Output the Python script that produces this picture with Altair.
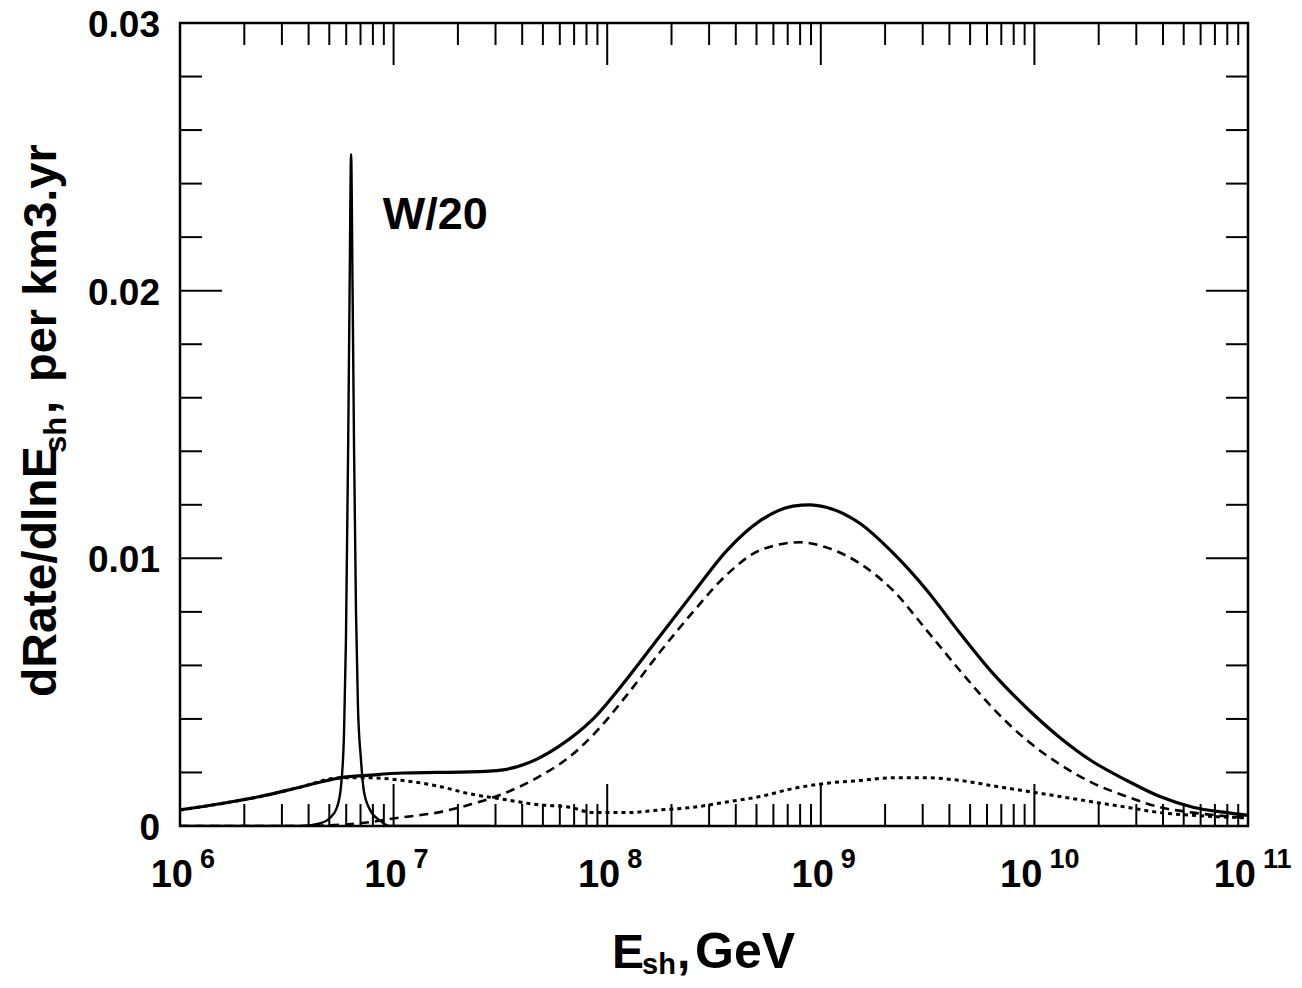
import altair as alt
import numpy as np
import pandas as pd

# ---------------- data ----------------
# log10(E_sh / GeV) and dRate/dlnE_sh (per km3.yr)
total_logE = [6.000, 6.187, 6.375, 6.562, 6.749, 6.890, 7.044, 7.203, 7.358, 7.512,
              7.671, 7.779, 7.934, 8.093, 8.247, 8.402, 8.561, 8.715, 8.870, 8.949,
              9.029, 9.184, 9.338, 9.497, 9.652, 9.806, 9.965, 10.120, 10.274, 10.433,
              10.588, 10.742, 10.900, 11.000]
total_rate = [0.0006, 0.00083, 0.0011, 0.00145, 0.0018, 0.0019, 0.00198, 0.0020, 0.00202, 0.0021,
              0.0025, 0.0030, 0.0040, 0.0055, 0.0071, 0.0087, 0.0103, 0.0114, 0.01195, 0.0120,
              0.0119, 0.0113, 0.0102, 0.0088, 0.0072, 0.0057, 0.0044, 0.0033, 0.0024, 0.0017,
              0.0011, 0.0007, 0.0005, 0.0004]

dashed_logE = [6.000, 6.562, 6.843, 7.016, 7.203, 7.358, 7.512, 7.671, 7.826, 7.934,
               8.093, 8.247, 8.402, 8.561, 8.715, 8.903, 9.029, 9.184, 9.338, 9.497,
               9.652, 9.806, 9.965, 10.120, 10.274, 10.433, 10.588, 10.742, 11.000]
dashed_rate = [0.0, 0.0, 0.0001, 0.0003, 0.0005, 0.0008, 0.0012, 0.0018, 0.0026, 0.0034,
               0.0049, 0.0065, 0.0080, 0.0094, 0.0103, 0.0106, 0.0104, 0.0098, 0.0088, 0.0073,
               0.0058, 0.0044, 0.0032, 0.0023, 0.0016, 0.0011, 0.0007, 0.0005, 0.0003]

dotted_logE = [6.000, 6.187, 6.375, 6.562, 6.749, 6.890, 7.044, 7.203, 7.358, 7.512,
               7.671, 7.826, 7.934, 8.093, 8.247, 8.402, 8.561, 8.715, 8.870, 9.029,
               9.184, 9.338, 9.497, 9.652, 9.806, 9.965, 10.120, 10.274, 10.433, 10.588,
               10.742, 11.000]
dotted_rate = [0.0006, 0.00083, 0.0011, 0.00145, 0.0018, 0.0018, 0.0017, 0.0015, 0.0012, 0.0010,
               0.0008, 0.0007, 0.0005, 0.0005, 0.0006, 0.0007, 0.0009, 0.0011, 0.0014, 0.0016,
               0.0017, 0.0018, 0.0018, 0.0017, 0.0015, 0.0013, 0.0011, 0.0009, 0.0007, 0.0005,
               0.0004, 0.0003]

# Glashow resonance (W/20)
w_logE = [6.000, 6.562, 6.655, 6.702, 6.735, 6.754, 6.768, 6.777, 6.787, 6.794,
          6.801, 6.808, 6.815, 6.824, 6.833, 6.847, 6.861, 6.890, 6.936, 6.983, 7.451]
w_rate = [0.0, 0.0, 0.0001, 0.0003, 0.0007, 0.0015, 0.0035, 0.0070, 0.0140, 0.0200,
          0.0251, 0.0200, 0.0140, 0.0080, 0.0045, 0.0025, 0.0013, 0.0006, 0.0002, 0.0, 0.0]

w_label = ["W/20"]
w_label_E = [8.9e6]
w_label_rate = [0.0223]

y_tick_values = [0.0, 0.01, 0.02, 0.03]
y_tick_labels = ["0", "0.01", "0.02", "0.03"]
y_minor_values = [0.002, 0.004, 0.006, 0.008, 0.012, 0.014, 0.016, 0.018,
                  0.022, 0.024, 0.026, 0.028]
x_decades = [6, 7, 8, 9, 10, 11]
x_minor_mult = [2, 3, 4, 5, 6, 7, 8, 9]

# ---------------- layout ----------------
W, H = 1068, 803
FONT = "Liberation Sans"
xs = alt.Scale(type="log", domain=[1e6, 1e11])
ys = alt.Scale(domain=[0, 0.03])


def curve(logE, rate, width, dash=None):
    d = pd.DataFrame({"E": 10 ** np.array(logE), "rate": rate})
    kw = dict(color="black", strokeWidth=width, interpolate="monotone", clip=True)
    if dash:
        kw["strokeDash"] = dash
    return alt.Chart(d).mark_line(**kw).encode(
        x=alt.X("E:Q", scale=xs, axis=None),
        y=alt.Y("rate:Q", scale=ys, axis=None),
        order="E:Q",
    )


def text_piece(s, x, y, size, angle=0, align="left", baseline="alphabetic"):
    return alt.Chart(pd.DataFrame({"t": [s]})).mark_text(
        font=FONT, fontWeight="bold", fontSize=size, angle=angle, align=align,
        baseline=baseline, color="black",
    ).encode(text="t:N", x=alt.value(x), y=alt.value(y))


major_E = [10.0 ** d for d in x_decades]
minor_E = [m * 10.0 ** d for d in x_decades[:-1] for m in x_minor_mult]
dfx_minor = pd.DataFrame({"E": minor_E})
dfx_major = pd.DataFrame({"E": major_E})
dfy_minor = pd.DataFrame({"v": y_minor_values})
dfy_major = pd.DataFrame({"v": y_tick_values})

TW = 2
minor_len, major_len = 22, 42
ticks = []
for df_, ln in [(dfx_minor, minor_len), (dfx_major, major_len)]:
    ticks.append(alt.Chart(df_).mark_rule(color="black", strokeWidth=TW).encode(
        x=alt.X("E:Q", scale=xs, axis=None), y=alt.value(H), y2=alt.value(H - ln)))
    ticks.append(alt.Chart(df_).mark_rule(color="black", strokeWidth=TW).encode(
        x=alt.X("E:Q", scale=xs, axis=None), y=alt.value(0), y2=alt.value(ln)))
for df_, ln in [(dfy_minor, minor_len), (dfy_major, major_len)]:
    ticks.append(alt.Chart(df_).mark_rule(color="black", strokeWidth=TW).encode(
        y=alt.Y("v:Q", scale=ys, axis=None), x=alt.value(0), x2=alt.value(ln)))
    ticks.append(alt.Chart(df_).mark_rule(color="black", strokeWidth=TW).encode(
        y=alt.Y("v:Q", scale=ys, axis=None), x=alt.value(W), x2=alt.value(W - ln)))

# y tick labels
ylab = alt.Chart(pd.DataFrame({"v": y_tick_values, "t": y_tick_labels})).mark_text(
    font=FONT, fontWeight="bold", fontSize=37, align="right", baseline="alphabetic",
    dx=-20, dy=14,
).encode(y=alt.Y("v:Q", scale=ys, axis=None), x=alt.value(0), text="t:N")

# x tick labels: "10" with superscript exponent
xl = pd.DataFrame({"E": major_E, "base": ["10"] * len(x_decades),
                   "exp": [str(d) for d in x_decades], "n": [len(str(d)) for d in x_decades]})
xlab = []
for n, shift in [(1, 0), (2, -5)]:
    sub = xl[xl["n"] == n]
    xlab.append(alt.Chart(sub).mark_text(
        font=FONT, fontWeight="bold", fontSize=38, align="right", baseline="alphabetic", dx=13 + shift,
    ).encode(x=alt.X("E:Q", scale=xs, axis=None), y=alt.value(H + 61), text="base:N"))
    xlab.append(alt.Chart(sub).mark_text(
        font=FONT, fontWeight="bold", fontSize=27, align="left", baseline="alphabetic", dx=20 + shift,
    ).encode(x=alt.X("E:Q", scale=xs, axis=None), y=alt.value(H + 42), text="exp:N"))

wl = alt.Chart(pd.DataFrame({"E": w_label_E, "rate": w_label_rate, "t": w_label})).mark_text(
    font=FONT, fontWeight="bold", fontSize=45, align="left", baseline="alphabetic",
).encode(x=alt.X("E:Q", scale=xs, axis=None), y=alt.Y("rate:Q", scale=ys, axis=None), text="t:N")

# axis titles (with subscripts)
titles = [
    text_piece("E", 612 - 180, 968 - 23, 48),
    text_piece("sh", 642 - 180, 974 - 23, 29),
    text_piece(",", 677 - 180, 968 - 23, 48),
    text_piece("GeV", 695 - 180, 968 - 23, 50),
    text_piece("dRate/dlnE", 56 - 180, 697 - 23, 48, angle=270),
    text_piece("sh", 66 - 180, 453 - 23, 31, angle=270),
    text_piece(",", 56 - 180, 414 - 23, 48, angle=270),
    text_piece("per km3.yr", 56 - 180, 382 - 23, 47, angle=270),
]

layers = ticks + [
    curve(dotted_logE, dotted_rate, 3.0, [4, 4]),
    curve(dashed_logE, dashed_rate, 2.6, [9, 6]),
    curve(total_logE, total_rate, 3.2),
    curve(w_logE, w_rate, 2.4),
    ylab, wl,
] + xlab + titles

chart = alt.layer(*layers).properties(
    width=W, height=H,
    autosize=alt.AutoSizeParams(type="none"),
    padding={"left": 172, "top": 15, "right": 46, "bottom": 154},
    background="white",
).configure_view(stroke="black", strokeWidth=2.5)

chart.save("out.html", embed_options={"renderer": "svg", "actions": False})
